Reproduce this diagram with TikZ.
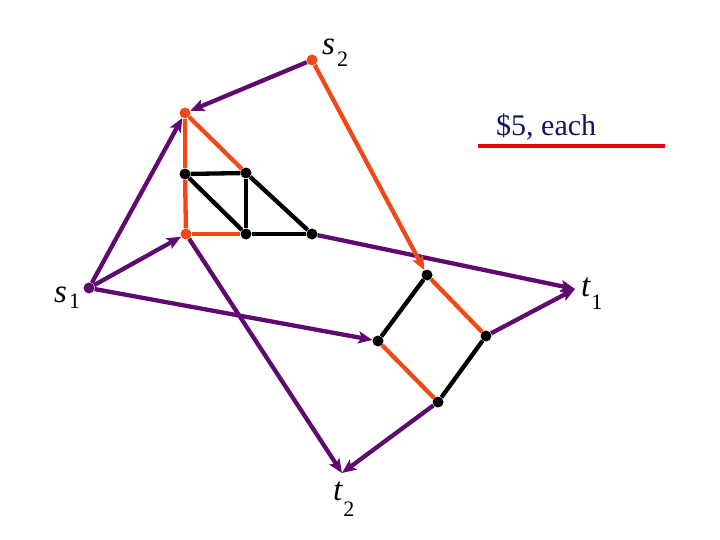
\documentclass[tikz,border=0pt]{standalone}
\usepackage{fontspec}
\setmainfont{Liberation Serif}
\newfontfamily\tmsfont{Liberation Serif}
\usetikzlibrary{arrows.meta}
\definecolor{pur}{RGB}{94,10,110}
\definecolor{org}{RGB}{240,72,22}
\definecolor{navy}{RGB}{20,20,96}
\definecolor{legred}{RGB}{226,10,10}
\tikzset{
  dot/.style={circle,inner sep=0pt,minimum size=11pt,fill=#1},
  pline/.style={draw=pur,line width=4.3pt},
  oline/.style={draw=org,line width=4.3pt},
  bline/.style={draw=black,line width=4.3pt},
  arr/.style={-{Stealth[length=14pt,width=12pt,inset=3pt]}},
  lbl/.style={anchor=base west,inner sep=0pt,font=\tmsfont\fontsize{33}{33}\selectfont\itshape},
}
\begin{document}
\begin{tikzpicture}[x=1pt,y=-1pt]
\useasboundingbox (0,0) rectangle (720,540);
% dots
\node[dot=org] (s2) at (312,60) {};
\node[dot=org] (A) at (185,113) {};
\node[dot=pur] (s1) at (89,288) {};
\node[dot=org] (B) at (186,234) {};
\node[dot=black] (C) at (185,174) {};
\node[dot=black] (D) at (246,173) {};
\node[dot=black] (E) at (246,234) {};
\node[dot=black] (F) at (312,234) {};
\node[dot=black] (G) at (427,275) {};
\node[dot=black] (H) at (486,336) {};
\node[dot=black] (I) at (378,341) {};
\node[dot=black] (J) at (438,402) {};
\coordinate (t1) at (575,289);
\coordinate (t2) at (342,473);
% purple arrows
\draw[pline,arr] (s2) -- (A);
\draw[pline,arr] (s1) -- (A);
\draw[pline,arr] (s1) -- (B);
\draw[pline,arr] (s1) -- (I);
\draw[pline,arr] (F) -- (t1);
\draw[pline,arr] (H) -- (t1);
\draw[pline,arr] (B) -- (t2);
\draw[pline,arr] (J) -- (t2);
% orange
\draw[oline,arr] (s2) -- (G);
\draw[oline] (A) -- (C);
\draw[oline] (C) -- (B);
\draw[oline] (A) -- (D);
\draw[oline] (B) -- (E);
\draw[oline] (G) -- (H);
\draw[oline] (I) -- (J);
% black
\draw[bline] (C) -- (D);
\draw[bline] (C) -- (E);
\draw[bline] (D) -- (E);
\draw[bline] (E) -- (F);
\draw[bline] (D) -- (F);
\draw[bline] (G) -- (I);
\draw[bline] (H) -- (J);
% labels
\node[lbl] (ls2) at (322,55) {s\raisebox{-12pt}{\upshape\fontsize{22}{22}\selectfont\hspace{2pt}2}};
\node[lbl] (ls1) at (54,302) {s\raisebox{-6pt}{\upshape\fontsize{22}{22}\selectfont\hspace{2pt}1}};
\node[lbl] (lt1) at (581,296) {t\raisebox{-13pt}{\upshape\fontsize{22}{22}\selectfont\hspace{1pt}1}};
\node[lbl] (lt2) at (333,500) {t\raisebox{-16pt}{\upshape\fontsize{22}{22}\selectfont\hspace{1pt}2}};
% legend
\node[anchor=base west,inner sep=0pt,text=navy,font=\tmsfont\fontsize{30}{30}\selectfont] (leg) at (496,136) {\$5, each};
\coordinate (r1) at (478,146);
\coordinate (r2) at (665,146);
\draw[draw=legred,line width=4pt] (r1) -- (r2);
\end{tikzpicture}
\end{document}
